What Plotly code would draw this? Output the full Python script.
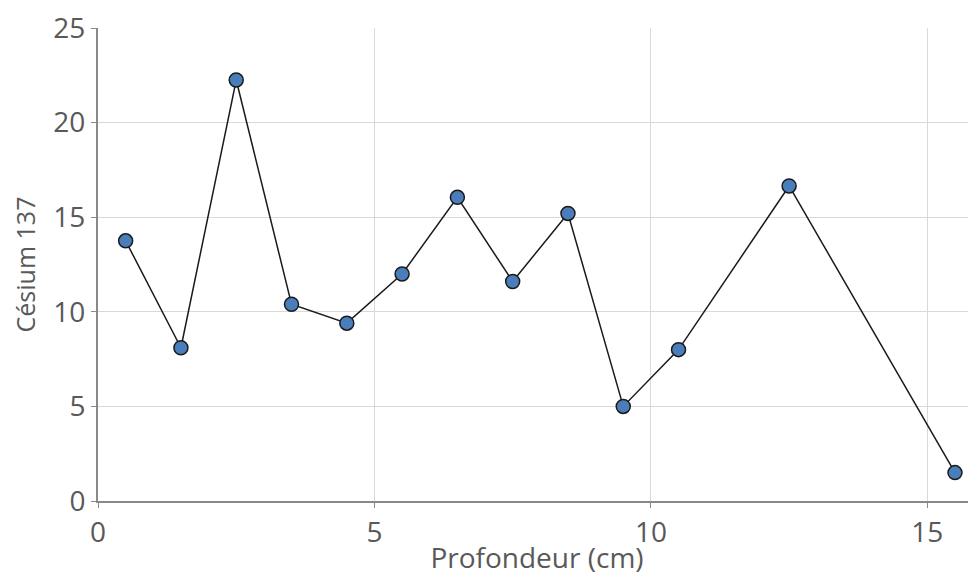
import plotly.graph_objects as go

profondeur = [0.5, 1.5, 2.5, 3.5, 4.5, 5.5, 6.5, 7.5, 8.5, 9.5, 10.5, 12.5, 15.5]
cesium = [13.75, 8.1, 22.25, 10.4, 9.4, 12.0, 16.05, 11.6, 15.2, 5.0, 8.0, 16.65, 1.5]

fig = go.Figure()
fig.add_trace(go.Scatter(
    x=profondeur, y=cesium, mode="lines+markers",
    line=dict(color="#1a1a1a", width=1.5),
    marker=dict(size=14, color="#4a7ebb", line=dict(color="#1a1a1a", width=1.5)),
    showlegend=False, cliponaxis=False,
))

font_col = "#595959"
fig.update_layout(
    width=968, height=568,
    margin=dict(l=90, r=0, t=20, b=75),
    paper_bgcolor="white", plot_bgcolor="white",
    font=dict(family="Open Sans", color=font_col, size=26),
    xaxis=dict(
        range=[0, 15.88], tickvals=[0, 5, 10, 15],
        showgrid=True, gridcolor="#d9d9d9", gridwidth=1,
        showline=True, linecolor="#898989", linewidth=2,
        ticks="outside", ticklen=5, tickcolor="#898989",
        tickfont=dict(size=28, color=font_col),
        ticklabeloverflow="allow",
        title=dict(text="Profondeur (cm)", font=dict(size=28, color=font_col), standoff=0),
        zeroline=False,
    ),
    yaxis=dict(
        range=[0, 25], tickvals=[0, 5, 10, 15, 20, 25],
        showgrid=True, gridcolor="#d9d9d9", gridwidth=1,
        showline=True, linecolor="#898989", linewidth=2,
        ticks="outside", ticklen=5, tickcolor="#898989",
        tickfont=dict(size=28, color=font_col),
        ticklabeloverflow="allow",
        title=dict(text="Césium 137", font=dict(size=25, color=font_col), standoff=12),
        zeroline=False,
    ),
)
fig.write_html("out.html")
